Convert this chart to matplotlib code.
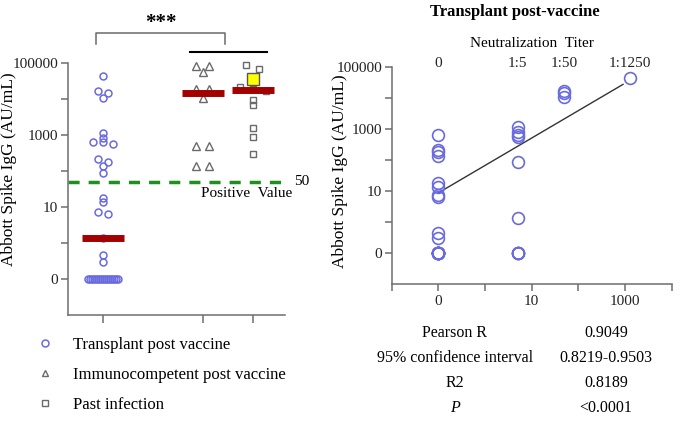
"""
Abbott Spike IgG by group and vs neutralization titer
"""

import numpy as np
import matplotlib.pyplot as plt
from matplotlib.lines import Line2D
from matplotlib.ticker import FixedLocator, NullFormatter, NullLocator

plt.rcParams['font.family'] = ['Liberation Serif', 'DejaVu Serif']
plt.rcParams['axes.edgecolor'] = '#6e6e6e'
plt.rcParams['xtick.color'] = '#6e6e6e'
plt.rcParams['ytick.color'] = '#6e6e6e'
plt.rcParams['xtick.labelcolor'] = '#222222'
plt.rcParams['ytick.labelcolor'] = '#222222'

# ---- data (0 is plotted as 0.1 on the log axes) ----
# transplant post vaccine: neutralization titer and IgG for each patient
tx_titer = [0.1] * 22 + [5] * 10 + [50] * 3 + [1250]
tx_igg = ([640, 210, 180, 135, 18, 13.5, 7.4, 6.5, 0.45, 0.3] + [0.1] * 12 +
          [1150, 800, 650, 550, 87, 1.35] + [0.1] * 4 +
          [17000, 15000, 10700] + [44600])
immuno_igg = [81000, 81000, 56000, 19000, 19000, 10700, 500, 500, 140, 140]
past_igg = [87000, 68000, 21000, 19000, 16600, 9300, 6800, 1600, 890, 300]
past_highlight = 35000
medians = [1.4, 15000, 18000]
group_pos = [0, 2, 3]
cutoff = 50

# regression line as drawn in the figure (log10 IgG vs log10 titer)
fit_slope = 0.886
fit_intercept = 1.826
fit_range = [0.1, 900]

ytick_vals = [0.1, 10, 1000, 100000]
ytick_labels = ['0', '10', '1000', '100000']
xtick_vals = [0.1, 10, 1000]
xtick_labels = ['0', '10', '1000']
titer_ticks = [0.1, 5, 50, 1250]
titer_labels = ['0', '1:5', '1:50', '1:1250']

stats_names = ['Pearson R', '95% confidence interval', 'R2', 'P']
stats_values = ['0.9049', '0.8219-0.9503', '0.8189', '<0.0001']

BLUE = '#6a6ae0'
GRAY = '#6a6a6a'
RED = '#a30000'
GREEN = '#1f8f1f'


def swarm_offsets(values, gap=0.12, max_step=0.26, max_width=0.6):
    """spread points whose log values are close, symmetric around 0"""
    logs = np.log10(values)
    order = np.argsort(-logs)
    offsets = np.zeros(len(values))
    cluster = [order[0]]
    for idx in list(order[1:]) + [None]:
        if idx is not None and logs[cluster[-1]] - logs[idx] < gap:
            cluster.append(idx)
            continue
        n = len(cluster)
        if n > 1:
            step = min(max_step, max_width / (n - 1))
            for i, c in enumerate(cluster):
                offsets[c] = (i - (n - 1) / 2) * step
        if idx is not None:
            cluster = [idx]
    return offsets


def log_axis(ax):
    ax.set_yscale('log')
    ax.set_ylim(0.01, 1e5)
    ax.yaxis.set_major_locator(FixedLocator(ytick_vals))
    ax.set_yticklabels(ytick_labels)
    ax.yaxis.set_minor_locator(FixedLocator([1, 100, 10000]))
    ax.yaxis.set_minor_formatter(NullFormatter())
    ax.tick_params(axis='y', which='both', length=5, width=1.1, pad=2,
                   labelsize=11)
    ax.spines['top'].set_visible(False)
    ax.spines['right'].set_visible(False)
    ax.spines['left'].set_linewidth(1.1)
    ax.spines['bottom'].set_linewidth(1.1)
    ax.set_ylabel('Abbott Spike IgG (AU/mL)', fontsize=12.5)


fig = plt.figure(figsize=(6.8, 4.25), dpi=100)

# ---- left: scatter by group ----
ax1 = fig.add_axes([0.100, 0.259, 0.319, 0.593])
log_axis(ax1)
ax1.yaxis.set_label_coords(-0.235, 0.58)
ax1.set_xlim(-0.7, 3.64)
ax1.set_xticks(group_pos)
ax1.set_xticklabels([])
ax1.tick_params(axis='x', length=6, width=1.1)

ax1.plot(group_pos[0] + swarm_offsets(tx_igg, gap=0.08, max_step=0.2),
         tx_igg, 'o', ms=5, mfc='none', mec=BLUE, mew=1.1, zorder=3,
         clip_on=False)
ax1.plot(group_pos[1] + swarm_offsets(immuno_igg), immuno_igg, '^',
         ms=5.5, mfc='none', mec=GRAY, mew=1.0, zorder=3, clip_on=False)
ax1.plot(group_pos[2] + swarm_offsets(past_igg), past_igg, 's',
         ms=5, mfc='none', mec=GRAY, mew=1.0, zorder=3, clip_on=False)
ax1.plot(group_pos[2], past_highlight, 's', ms=9, mfc='#ffff00',
         mec='#555555', mew=1.0, zorder=5)
for x, m in zip(group_pos, medians):
    ax1.plot([x - 0.42, x + 0.42], [m, m], color=RED, lw=5,
             solid_capstyle='butt', zorder=4)

ax1.axhline(cutoff, xmin=0, xmax=1.01, color=GREEN, lw=2.5,
            dashes=(3.2, 2.6), clip_on=False, zorder=2)
yt = ax1.get_yaxis_transform()
ax1.text(1.04, cutoff, '50', transform=yt, fontsize=11, va='center',
         ha='left')
ax1.annotate('Positive  Value', xy=(1.035, cutoff), xycoords=yt,
             xytext=(0, -4), textcoords='offset points', ha='right',
             va='top', fontsize=11)

# significance bracket
xt = ax1.get_xaxis_transform()
ax1.plot([-0.14, -0.14, 2.44, 2.44], [1.075, 1.119, 1.119, 1.075],
         transform=xt, color=GRAY, lw=1.1, clip_on=False)
ax1.plot([1.74, 3.28], [1.044, 1.044], transform=xt, color='black',
         lw=1.5, clip_on=False)
ax1.text(1.15, 1.158, '***', transform=xt, ha='center', va='center',
         fontsize=15, fontweight='bold')

# legend
handles = [
    Line2D([], [], marker='o', ls='none', ms=5, mfc='none', mec=BLUE, mew=1.1),
    Line2D([], [], marker='^', ls='none', ms=5, mfc='none', mec=GRAY, mew=1.0),
    Line2D([], [], marker='s', ls='none', ms=5, mfc='none', mec=GRAY, mew=1.0),
]
fig.legend(handles, ['Transplant post vaccine', 'Immunocompetent post vaccine',
                     'Past infection'],
           loc='upper left', bbox_to_anchor=(0.041, 0.227), frameon=False,
           fontsize=12, handlelength=1.0, handletextpad=1.2,
           labelspacing=0.84, borderpad=0)

# ---- right: IgG vs neutralization titer ----
ax2 = fig.add_axes([0.576, 0.332, 0.412, 0.510])
log_axis(ax2)
ax2.yaxis.set_label_coords(-0.155, 0.52)
ax2.set_xscale('log')
ax2.set_xlim(0.01, 1e4)
ax2.xaxis.set_major_locator(FixedLocator(xtick_vals))
ax2.set_xticklabels(xtick_labels)
ax2.xaxis.set_minor_locator(FixedLocator([0.01, 1, 100, 10000]))
ax2.xaxis.set_minor_formatter(NullFormatter())
ax2.tick_params(axis='x', which='both', length=5, width=1.1, pad=3,
                labelsize=11)

ax2.plot(tx_titer, tx_igg, 'o', ms=8.5, mfc='none', mec=BLUE, mew=1.2,
         zorder=3, clip_on=False)

fx = np.array(fit_range)
ax2.plot(fx, 10 ** (fit_intercept + fit_slope * np.log10(fx)),
         color='#333333', lw=1.0, zorder=2)

top = ax2.secondary_xaxis('top')
top.set_xticks(titer_ticks)
top.set_xticklabels(titer_labels)
top.xaxis.set_minor_locator(NullLocator())
top.tick_params(which='both', length=0, labelsize=11, pad=-2)
top.spines['top'].set_visible(False)
top.set_xlabel('Neutralization  Titer', fontsize=11, labelpad=7)

fig.text(0.757, 0.972, 'Transplant post-vaccine', ha='center', va='center',
         fontsize=12, fontweight='bold')

# stats table
for i, (name, val) in enumerate(zip(stats_names, stats_values)):
    y = 1 - (333 + i * 25) / 425
    style = 'italic' if name == 'P' else 'normal'
    fig.text(0.669, y, name, ha='center', va='center', fontsize=11.5,
             fontstyle=style)
    fig.text(0.891, y, val, ha='center', va='center', fontsize=11.5)

plt.savefig('out.png', dpi=100)
